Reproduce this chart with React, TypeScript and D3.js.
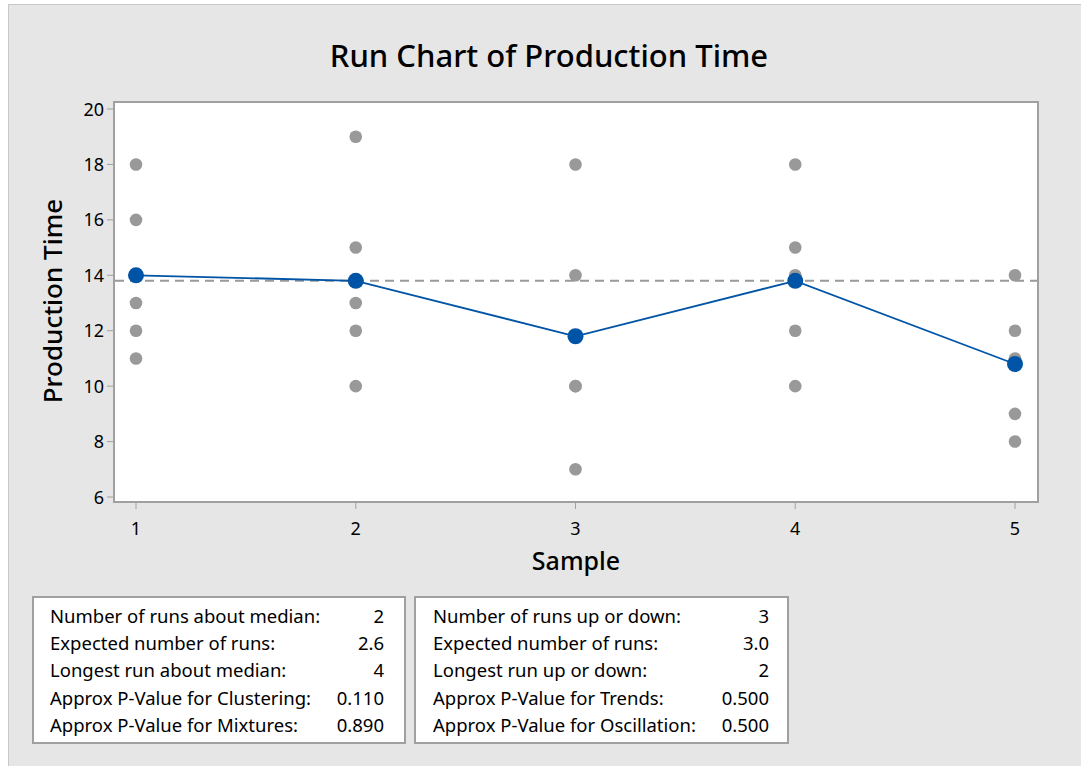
import React from "react";
import * as d3 from "d3";

const samples = [1, 2, 3, 4, 5];
const observations: number[][] = [
  [18, 16, 13, 12, 11],
  [19, 15, 13, 12, 10],
  [18, 14, 10, 10, 7],
  [18, 15, 14, 12, 10],
  [14, 12, 11, 9, 8],
];
const yTicks = [6, 8, 10, 12, 14, 16, 18, 20];
const leftStats = [
  ["Number of runs about median:", "2"],
  ["Expected number of runs:", "2.6"],
  ["Longest run about median:", "4"],
  ["Approx P-Value for Clustering:", "0.110"],
  ["Approx P-Value for Mixtures:", "0.890"],
];
const rightStats = [
  ["Number of runs up or down:", "3"],
  ["Expected number of runs:", "3.0"],
  ["Longest run up or down:", "2"],
  ["Approx P-Value for Trends:", "0.500"],
  ["Approx P-Value for Oscillation:", "0.500"],
];

const W = 1081;
const H = 766;
const FONT = "'Noto Sans', 'Open Sans', sans-serif";

export default function App() {
  const plot = { left: 114, top: 102, right: 1038, bottom: 502 };
  const x = d3.scaleLinear().domain([1, 5]).range([136, 1015]);
  const y = d3.scaleLinear().domain([6, 20]).range([497, 109]);
  const means = observations.map((o) => d3.mean(o) as number);
  const median = d3.median(means) as number;
  const line = d3
    .line<number>()
    .x((_, i) => x(samples[i]))
    .y((d) => y(d));

  const statBox = (
    rows: string[][],
    bx: number,
    bw: number,
    tx: number,
    vx: number
  ) => (
    <g>
      <rect x={bx} y={597} width={bw} height={146} fill="#fff" stroke="#a0a0a0" strokeWidth={2} />
      {rows.map((r, i) => (
        <g key={i}>
          <text x={tx} y={623 + i * 27.2} fontSize={18.5} fill="#000">
            {r[0]}
          </text>
          <text x={vx} y={623 + i * 27.2} fontSize={18.5} fill="#000" textAnchor="end">
            {r[1]}
          </text>
        </g>
      ))}
    </g>
  );

  return (
    <svg
      width={W}
      height={H}
      style={{ position: "absolute", left: 0, top: 0, fontFamily: FONT }}
    >
      <rect x={0} y={0} width={W} height={H} fill="#fff" />
      <rect x={8.5} y={4.5} width={W} height={H} fill="#e6e6e6" stroke="#c8c8c8" strokeWidth={1} />
      <text x={549} y={67} fontSize={31} fontWeight={500} textAnchor="middle" fill="#000">
        Run Chart of Production Time
      </text>
      <rect
        x={plot.left}
        y={plot.top}
        width={plot.right - plot.left}
        height={plot.bottom - plot.top}
        fill="#fff"
        stroke="#a0a0a0"
        strokeWidth={2}
      />
      {yTicks.map((t) => (
        <g key={t}>
          <line x1={107} x2={113} y1={y(t)} y2={y(t)} stroke="#a0a0a0" strokeWidth={1} />
          <text x={104} y={y(t) + 6.5} fontSize={18} textAnchor="end" fill="#000">
            {t}
          </text>
        </g>
      ))}
      {samples.map((s) => (
        <g key={s}>
          <line x1={x(s)} x2={x(s)} y1={503} y2={509} stroke="#a0a0a0" strokeWidth={1} />
          <text x={x(s)} y={535} fontSize={18} textAnchor="middle" fill="#000">
            {s}
          </text>
        </g>
      ))}
      <text x={576} y={570} fontSize={25} fontWeight={500} textAnchor="middle" fill="#000">
        Sample
      </text>
      <text
        transform={`translate(62,301) rotate(-90)`}
        fontSize={26}
        fontWeight={500}
        textAnchor="middle"
        fill="#000"
      >
        Production Time
      </text>
      {observations.map((o, i) =>
        o.map((v, j) => (
          <circle key={`${i}-${j}`} cx={x(samples[i])} cy={y(v)} r={6.3} fill="#999999" />
        ))
      )}
      <line
        x1={plot.left + 1}
        x2={plot.right - 1}
        y1={y(median)}
        y2={y(median)}
        stroke="#999999"
        strokeWidth={2}
        strokeDasharray="9,6"
      />
      <path d={line(means) || ""} fill="none" stroke="#0054a6" strokeWidth={1.8} />
      {means.map((m, i) => (
        <circle key={i} cx={x(samples[i])} cy={y(m)} r={8} fill="#0054a6" />
      ))}
      {statBox(leftStats, 33, 372, 50, 384)}
      {statBox(rightStats, 415, 373, 433, 769)}
    </svg>
  );
}
